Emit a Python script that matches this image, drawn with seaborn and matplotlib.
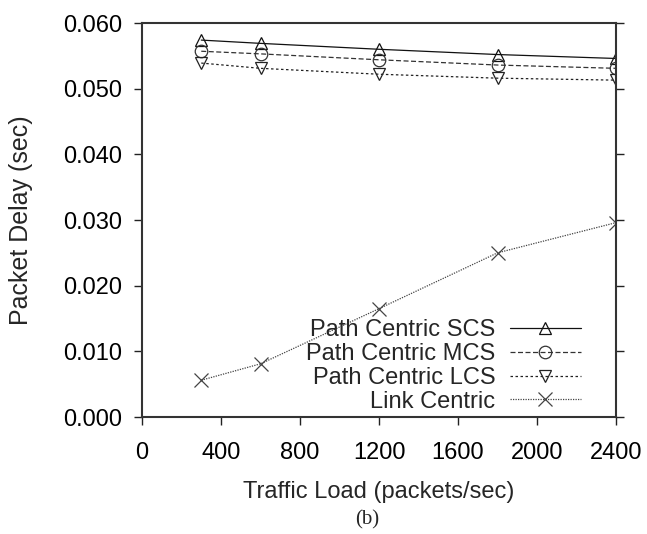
import matplotlib
matplotlib.use("Agg")
import matplotlib.pyplot as plt
import seaborn as sns
import pandas as pd

# traffic load (packets/sec)
load = [300, 600, 1200, 1800, 2400]

# packet delay (sec)
scs = [0.0574, 0.0569, 0.0560, 0.0552, 0.0546]
mcs = [0.0557, 0.0553, 0.0544, 0.0536, 0.0531]
lcs = [0.0539, 0.0531, 0.0522, 0.0516, 0.0513]
link = [0.0056, 0.0081, 0.0165, 0.0250, 0.0296]

labels = ["Path Centric SCS", "Path Centric MCS", "Path Centric LCS", "Link Centric"]
xticks = [0, 400, 800, 1200, 1600, 2000, 2400]
yticks = [0.000, 0.010, 0.020, 0.030, 0.040, 0.050, 0.060]

sns.set_style("ticks")
plt.rcParams['font.family'] = ['Liberation Sans', 'DejaVu Sans']

fig = plt.figure(figsize=(6.47, 5.34), dpi=100)
ax = fig.add_axes([0.2195, 0.2191, 0.7326, 0.7378])

series = [
    (scs, "^", "-", "#111111"),
    (mcs, "o", (0, (4, 2)), "#333333"),
    (lcs, "v", (0, (2, 2)), "#222222"),
    (link, "x", (0, (1, 1)), "#444444"),
]
for (vals, mk, ls, col), lab in zip(series, labels):
    df = pd.DataFrame({"load": load, "delay": vals})
    sns.lineplot(data=df, x="load", y="delay", ax=ax, color=col, marker=mk,
                 linestyle=ls, linewidth=0.9, markersize=9 if mk != "x" else 10,
                 markerfacecolor="none", markeredgecolor=col, markeredgewidth=0.9,
                 label=lab)

ax.set_xlim(0, 2400)
ax.set_ylim(0, 0.06)
ax.set_xticks(xticks)
ax.set_yticks(yticks)
ax.set_yticklabels([f"{v:.3f}" for v in yticks])
ax.tick_params(axis="both", direction="out", length=6, width=1, labelsize=17,
               colors="#222222", labelcolor="black", pad=8)
ax.tick_params(axis="x", pad=12)
ax.tick_params(axis="y", right=True, left=True)
for s in ax.spines.values():
    s.set_visible(True)
    s.set_linewidth(1.5)
    s.set_color("#333333")

ax.set_xlabel("Traffic Load (packets/sec)", fontsize=17, labelpad=12)
ax.set_ylabel("Packet Delay (sec)", fontsize=18, labelpad=22)

ax.legend(loc="lower right", bbox_to_anchor=(0.955, -0.025), frameon=False,
          fontsize=17, markerfirst=False, handlelength=3.0, handletextpad=0.6,
          labelspacing=0.08, borderaxespad=0.2)

fig.text(0.567, 0.018, "(b)", fontsize=15, family="Liberation Serif", ha="center")

fig.savefig("out.png", dpi=100)
